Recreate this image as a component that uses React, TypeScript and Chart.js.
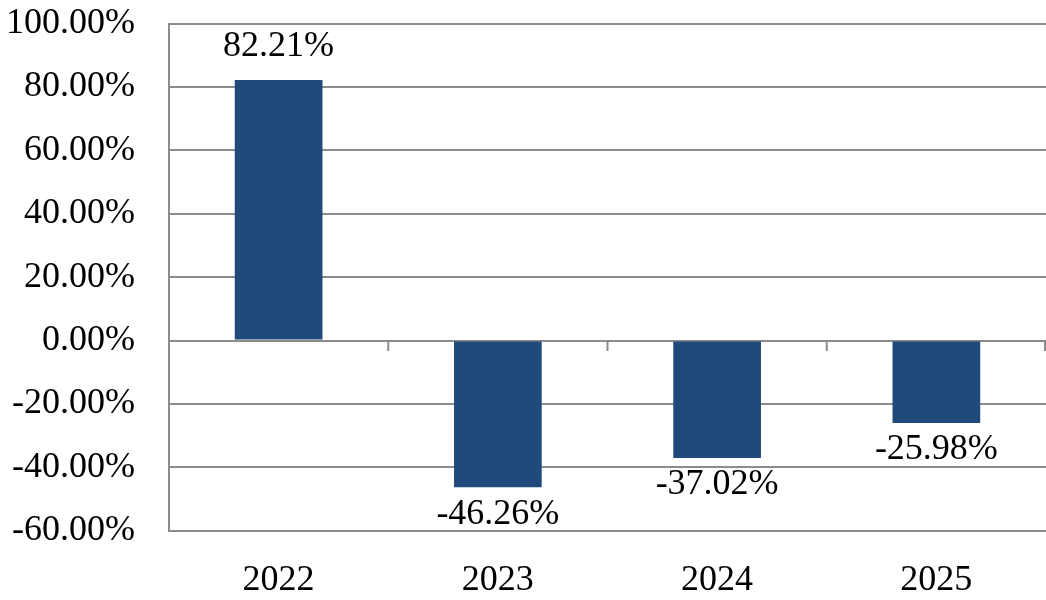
import React, { useEffect, useRef } from 'react';
import { Chart, registerables } from 'chart.js';

Chart.register(...registerables);

const years = ['2022', '2023', '2024', '2025'];
const returns = [82.21, -46.26, -37.02, -25.98];
const yMin = -60;
const yMax = 100;
const yStep = 20;

const FONT = "'Liberation Serif', 'DejaVu Serif', serif";
const GRID = '#8c8c8c';
const BAR = '#204a7b';
const FONT_SIZE = 36;

// value labels: above positive bars, below negative ones
const valueLabels = {
  id: 'valueLabels',
  afterDatasetsDraw(chart: Chart) {
    const ctx = chart.ctx;
    const meta = chart.getDatasetMeta(0);
    ctx.save();
    ctx.font = `${FONT_SIZE}px ${FONT}`;
    ctx.fillStyle = '#000';
    ctx.textAlign = 'center';
    ctx.textBaseline = 'middle';
    meta.data.forEach((bar: any, i: number) => {
      const v = returns[i];
      const label = v.toFixed(2) + '%';
      const dy = v >= 0 ? -33 : 27;
      ctx.fillText(label, bar.x, bar.y + dy);
    });
    ctx.restore();
  },
};

// small tick marks hanging below the zero line at category boundaries
const zeroTicks = {
  id: 'zeroTicks',
  afterDraw(chart: Chart) {
    const { ctx, chartArea } = chart;
    const x = chart.scales.x;
    const y0 = Math.round(chart.scales.y.getPixelForValue(0));
    ctx.save();
    ctx.strokeStyle = GRID;
    ctx.lineWidth = 2;
    ctx.beginPath();
    for (let i = 1; i <= years.length; i++) {
      const px =
        i < years.length
          ? (x.getPixelForValue(i - 1) + x.getPixelForValue(i)) / 2
          : chartArea.right - 1;
      ctx.moveTo(px, y0);
      ctx.lineTo(px, y0 + 10);
    }
    ctx.stroke();
    ctx.restore();
  },
};

const App: React.FC = () => {
  const canvasRef = useRef<HTMLCanvasElement | null>(null);
  const chartRef = useRef<Chart | null>(null);

  useEffect(() => {
    if (!canvasRef.current) return;
    if (chartRef.current) chartRef.current.destroy();

    chartRef.current = new Chart(canvasRef.current, {
      type: 'bar',
      data: {
        labels: years,
        datasets: [
          {
            data: returns,
            backgroundColor: BAR,
            borderWidth: 0,
            barPercentage: 0.8,
            categoryPercentage: 0.5,
          },
        ],
      },
      options: {
        animation: false,
        responsive: true,
        maintainAspectRatio: false,
        layout: { padding: { top: 0, right: 0, bottom: -22, left: 4 } },
        plugins: {
          legend: { display: false },
          tooltip: { enabled: false },
        },
        scales: {
          x: {
            grid: { display: false },
            border: { display: false },
            ticks: {
              color: '#000',
              font: { family: FONT, size: FONT_SIZE },
              padding: 20,
            },
          },
          y: {
            min: yMin,
            max: yMax,
            grid: {
              color: GRID,
              lineWidth: 2,
              drawTicks: true,
              tickLength: 32,
              tickColor: 'rgba(0,0,0,0)',
            },
            border: { display: true, color: GRID, width: 2 },
            ticks: {
              stepSize: yStep,
              color: '#000',
              font: { family: FONT, size: FONT_SIZE },
              padding: 2,
              callback: (v: any) => Number(v).toFixed(2) + '%',
            },
          },
        },
      },
      plugins: [valueLabels, zeroTicks],
    });

    return () => {
      if (chartRef.current) {
        chartRef.current.destroy();
        chartRef.current = null;
      }
    };
  }, []);

  return (
    <div style={{ position: 'fixed', left: 0, top: 0, width: 1046, height: 600, background: '#fff' }}>
      <canvas ref={canvasRef} />
    </div>
  );
};

export default App;
